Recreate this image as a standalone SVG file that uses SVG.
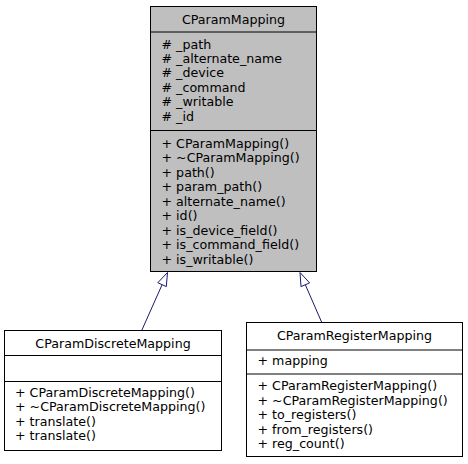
<svg xmlns="http://www.w3.org/2000/svg" width="468" height="464" viewBox="0 0 468 464">
<defs>
<style>
text { font-family: "DejaVu Sans", sans-serif; font-size: 12.65px; fill: #000; }
.c { text-anchor: middle; }
.box { stroke: #000; stroke-width: 1; }
.cur { fill: #bfbfbf; }
.plain { fill: #fff; }
.sep { stroke: #000; stroke-width: 1; fill: none; }
.edge { stroke: #191970; stroke-width: 1; fill: none; }
.head { stroke: #191970; stroke-width: 1; fill: #fff; }
</style>
</defs>
<rect width="468" height="464" fill="#fff"/>
<g id="edges">
<path class="edge" d="M141.7,330.5 L162.1,284.7"/>
<polygon class="head" points="167.5,272.5 166.3,286.6 157.8,282.7"/>
<path class="edge" d="M321.7,322.3 L305.3,284.7"/>
<polygon class="head" points="300,272.5 309.6,282.9 301,286.6"/>
</g>
<g id="CParamMapping">
<rect class="box cur" x="150.5" y="6.5" width="166" height="265"/>
<text class="c" x="233.5" y="24">CParamMapping</text>
<line class="sep" x1="150.5" y1="32" x2="316.5" y2="32"/>
<text x="161.5" y="48.5"># _path</text>
<text x="161.5" y="62.9"># _alternate_name</text>
<text x="161.5" y="77.3"># _device</text>
<text x="161.5" y="91.7"># _command</text>
<text x="161.5" y="106.1"># _writable</text>
<text x="161.5" y="120.5"># _id</text>
<line class="sep" x1="150.5" y1="130.5" x2="316.5" y2="130.5"/>
<text x="161.5" y="147.5">+ CParamMapping()</text>
<text x="161.5" y="162">+ ~CParamMapping()</text>
<text x="161.5" y="176.5">+ path()</text>
<text x="161.5" y="191">+ param_path()</text>
<text x="161.5" y="205.5">+ alternate_name()</text>
<text x="161.5" y="220">+ id()</text>
<text x="161.5" y="234.5">+ is_device_field()</text>
<text x="161.5" y="249">+ is_command_field()</text>
<text x="161.5" y="263.5">+ is_writable()</text>
</g>
<g id="CParamDiscreteMapping">
<rect class="box plain" x="4.5" y="330.5" width="217" height="120"/>
<text class="c" x="113" y="347.5">CParamDiscreteMapping</text>
<line class="sep" x1="4.5" y1="355.5" x2="221.5" y2="355.5"/>
<line class="sep" x1="4.5" y1="381.5" x2="221.5" y2="381.5"/>
<text x="15" y="397">+ CParamDiscreteMapping()</text>
<text x="15" y="411.4">+ ~CParamDiscreteMapping()</text>
<text x="15" y="425.8">+ translate()</text>
<text x="15" y="440.2">+ translate()</text>
</g>
<g id="CParamRegisterMapping">
<rect class="box plain" x="246.5" y="322.5" width="216" height="134"/>
<text class="c" x="354.5" y="340">CParamRegisterMapping</text>
<line class="sep" x1="246.5" y1="350" x2="462.5" y2="350"/>
<text x="257.5" y="365">+ mapping</text>
<line class="sep" x1="246.5" y1="374" x2="462.5" y2="374"/>
<text x="257.5" y="390">+ CParamRegisterMapping()</text>
<text x="257.5" y="404.5">+ ~CParamRegisterMapping()</text>
<text x="257.5" y="419">+ to_registers()</text>
<text x="257.5" y="433.5">+ from_registers()</text>
<text x="257.5" y="448">+ reg_count()</text>
</g>
</svg>
